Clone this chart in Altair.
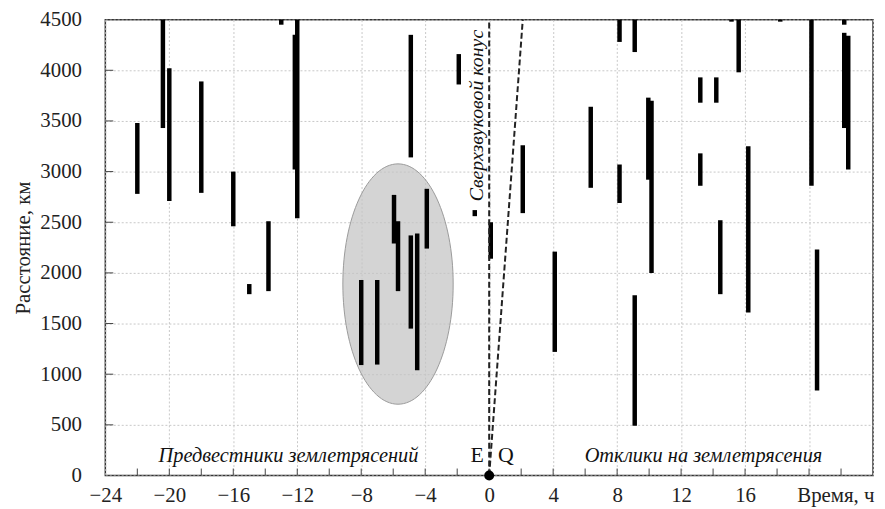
import altair as alt
import pandas as pd

# ---- data ----
bar_t = [-22, -20.4, -20, -18, -16, -15, -13.8, -13, -12.15, -12.0,
         -8, -7, -5.95, -5.7, -4.9, -4.9, -4.5, -3.9, -1.9, -0.9,
         0.1, 2.1, 4.1, 6.35, 8.15, 8.15, 9.1, 9.1, 9.95, 10.15,
         13.2, 14.2, 13.2, 14.45, 15.15, 15.6, 16.2, 18.2, 20.15, 20.5,
         22.2, 22.2, 22.45]
bar_lo = [2780, 3430, 2710, 2790, 2460, 1790, 1820, 4450, 3020, 2540,
          1090, 1095, 2290, 1820, 1450, 3140, 1040, 2240, 3860, 2560,
          2140, 2590, 1220, 2840, 4280, 2690, 4180, 490, 2920, 2000,
          3680, 3680, 2860, 1790, 4480, 3980, 1610, 4480, 2860, 840,
          4450, 3430, 3020]
bar_hi = [3480, 4500, 4020, 3890, 3000, 1890, 2510, 4500, 4350, 4500,
          1930, 1930, 2770, 2510, 2370, 4350, 2390, 2830, 4160, 2620,
          2500, 3260, 2210, 3640, 4500, 3070, 4500, 1780, 3730, 3700,
          3930, 3930, 3180, 2520, 4500, 4500, 3250, 4500, 4500, 2230,
          4500, 4370, 4340]

x_grid = list(range(-24, 25, 2))
y_grid = list(range(0, 4501, 500))
x_tick_vals = list(range(-22, 23, 2))
y_tick_vals = list(range(500, 4001, 500))

cone_t = [0.0, 0.0]
cone_t2 = [0.0, 2.1]
cone_d = [0.0, 0.0]
cone_d2 = [4500.0, 4500.0]

ellipse_t = [-5.7]
ellipse_d = [1890]

eq_t = [0]
eq_d = [0]

W, H = 773, 459
FONT = "Liberation Serif"

xs = alt.Scale(domain=[-24, 24], nice=False, zero=False)
ys = alt.Scale(domain=[0, 4500], nice=False, zero=False)

df_bars = pd.DataFrame({"t": bar_t, "lo": bar_lo, "hi": bar_hi})

base_x_axis = alt.Axis(
    values=x_grid,
    labelExpr="(datum.value % 4 == 0 && datum.value <= 16) ? replace(format(datum.value, 'd'), '-', '\u2212') : ''",
    grid=True, ticks=False, domain=False,
    labelPadding=9, labelFlush=False,
    title="Время, ч", titleAnchor="end", titleAlign="right",
    titleX=774, titleY=26, titleBaseline="alphabetic",
)
base_y_axis = alt.Axis(
    values=y_grid, format="d", grid=True, ticks=False, domain=False,
    labelPadding=24, title="Расстояние, км", titlePadding=6,
)

grid_layer = alt.Chart(df_bars).mark_rule(opacity=0).encode(
    x=alt.X("t:Q", scale=xs, axis=base_x_axis),
    y=alt.Y("lo:Q", scale=ys, axis=base_y_axis),
)

ellipse = alt.Chart(pd.DataFrame({"t": ellipse_t, "d": ellipse_d})).mark_point(
    shape="M-0.459,0A0.459,1 0 1,0 0.459,0A0.459,1 0 1,0 -0.459,0Z",
    size=242 * 242, filled=True, fill="#c4c4c4", fillOpacity=0.72,
    stroke="#9a9a9a", strokeWidth=1, opacity=1,
).encode(x=alt.X("t:Q", scale=xs), y=alt.Y("d:Q", scale=ys))

bars = alt.Chart(df_bars).mark_rule(color="black", strokeWidth=4.5, strokeCap="butt").encode(
    x=alt.X("t:Q", scale=xs), y=alt.Y("lo:Q", scale=ys), y2="hi:Q"
)

cone = alt.Chart(pd.DataFrame({"t": cone_t, "t2": cone_t2, "d": cone_d, "d2": cone_d2})).mark_rule(
    color="#222", strokeWidth=2, strokeDash=[6, 3]
).encode(x=alt.X("t:Q", scale=xs), x2="t2:Q", y=alt.Y("d:Q", scale=ys), y2="d2:Q")

xticks = alt.Chart(pd.DataFrame({"t": x_tick_vals})).mark_rule(color="#444", strokeWidth=1).encode(
    x=alt.X("t:Q", scale=xs), y=alt.value(H), y2=alt.value(H - 7)
)
yticks = alt.Chart(pd.DataFrame({"d": y_tick_vals})).mark_rule(color="#444", strokeWidth=1).encode(
    y=alt.Y("d:Q", scale=ys), x=alt.value(0), x2=alt.value(8)
)

dot = alt.Chart(pd.DataFrame({"t": eq_t, "d": eq_d})).mark_point(
    filled=True, size=100, color="black", opacity=1, clip=False
).encode(x=alt.X("t:Q", scale=xs), y=alt.Y("d:Q", scale=ys))

labels_df = pd.DataFrame({
    "t": [-12.55, 13.4],
    "d": [135, 135],
    "txt": ["Предвестники землетрясений", "Отклики на землетрясения"],
})
region_text = alt.Chart(labels_df).mark_text(
    font=FONT, fontStyle="italic", fontSize=20.5, color="#111", baseline="alphabetic", align="center"
).encode(x=alt.X("t:Q", scale=xs), y=alt.Y("d:Q", scale=ys), text="txt:N")

eq_df = pd.DataFrame({"t": [-0.75, 1.05], "d": [135, 135], "txt": ["E", "Q"]})
eq_text = alt.Chart(eq_df).mark_text(
    font=FONT, fontSize=22, color="#111", baseline="alphabetic", align="center"
).encode(x=alt.X("t:Q", scale=xs), y=alt.Y("d:Q", scale=ys), text="txt:N")

cone_df = pd.DataFrame({"t": [-0.75], "d": [4400], "txt": ["Сверхзвуковой конус"]})
cone_text = alt.Chart(cone_df).mark_text(
    font=FONT, fontStyle="italic", fontSize=20, color="#111", angle=270,
    align="right", baseline="middle"
).encode(x=alt.X("t:Q", scale=xs), y=alt.Y("d:Q", scale=ys), text="txt:N")

chart = alt.layer(
    grid_layer, ellipse, bars, cone, xticks, yticks, region_text, eq_text, cone_text, dot
).properties(
    width=W, height=H,
    autosize=alt.AutoSizeParams(type="none"),
    padding={"left": 98, "top": 10, "right": 4, "bottom": 30},
).configure_view(
    stroke="#333", strokeWidth=1.5
).configure_axis(
    labelFont=FONT, labelFontSize=21, labelColor="#222",
    titleFont=FONT, titleFontSize=21, titleFontWeight="normal", titleColor="#222",
    gridColor="#c8c8c8", gridDash=[2, 2], gridWidth=1,
)

chart.save("out.html", embed_options={"renderer": "svg", "actions": False})
